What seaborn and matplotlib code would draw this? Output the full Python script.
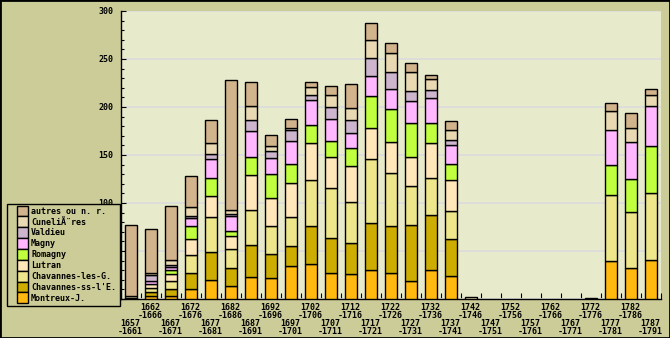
import numpy as np
import pandas as pd
import matplotlib
matplotlib.use("Agg")
import matplotlib.pyplot as plt
import matplotlib.transforms as mtransforms
from matplotlib.patches import Patch, Rectangle
from matplotlib.ticker import MultipleLocator, FixedLocator
import seaborn as sns

# ---------------- data ----------------
period_start = ["1657", "1662", "1667", "1672", "1677", "1682", "1687", "1692", "1697",
                "1702", "1707", "1712", "1717", "1722", "1727", "1732", "1737", "1742",
                "1747", "1752", "1757", "1762", "1767", "1772", "1777", "1782", "1787"]
period_end = ["1661", "1666", "1671", "1676", "1681", "1686", "1691", "1696", "1701",
              "1706", "1711", "1716", "1721", "1726", "1731", "1736", "1741", "1746",
              "1751", "1756", "1761", "1766", "1771", "1776", "1781", "1786", "1791"]

montreux = [0, 2.8, 3.5, 10.8, 20.2, 13.9, 23.3, 22.3, 34.8, 36.9, 27.5, 26.5, 30.6, 27.5,
            19.2, 30.6, 24.4, 0, 0, 0, 0, 0, 0, 0, 40.0, 32.7, 41.0]
chav_ss = [0, 4.9, 6.5, 16.7, 29.2, 18.1, 33.4, 25.0, 20.8, 39.6, 36.5, 32.3, 49.0, 49.0,
           58.3, 57.3, 38.5, 0, 0, 0, 0, 0, 0, 0, 0, 0, 0]
chav_les = [1.2, 3.4, 8.3, 18.7, 36.4, 19.8, 36.4, 29.2, 30.2, 47.9, 52.0, 42.7, 66.6, 55.2,
            40.6, 38.6, 29.2, 0, 0, 0, 0, 0, 0, 0.8, 68.8, 58.3, 69.8]
lutran = [2.0, 5.0, 7.6, 16.7, 21.9, 13.5, 36.5, 29.2, 35.4, 38.5, 32.3, 37.5, 32.3, 32.3,
          30.2, 36.4, 32.3, 2.0, 0, 0, 0, 0, 0, 0, 0, 0, 0]
romagny = [0, 0, 4.5, 12.8, 18.8, 5.2, 18.7, 25.0, 19.8, 18.8, 16.7, 18.7, 33.4, 34.3,
           35.5, 20.9, 16.6, 0, 0, 0, 0, 0, 0, 0, 31.2, 34.4, 49.0]
magny = [0, 2.5, 2.5, 8.4, 19.7, 16.4, 27.1, 16.2, 24.0, 26.0, 22.9, 15.6, 20.8, 20.9,
         22.9, 26.0, 19.8, 0, 0, 0, 0, 0, 0, 0, 36.5, 38.6, 41.6]
valdieu = [0, 6.8, 2.0, 2.0, 5.3, 1.5, 11.5, 7.7, 11.5, 5.2, 12.5, 13.6, 18.8, 17.7,
           10.4, 8.3, 5.2, 0, 0, 0, 0, 0, 0, 0, 0, 0, 0]
cunelieres = [0, 1.7, 5.5, 10.1, 11.4, 4.7, 14.5, 5.2, 1.3, 8.3, 12.5, 12.5, 18.7, 19.8,
              19.8, 11.5, 10.5, 0, 0, 0, 0, 0, 0, 0, 19.7, 14.5, 11.5]
autres = [74.3, 46.2, 56.9, 32.3, 24.0, 135.4, 25.0, 11.5, 10.1, 5.2, 9.4, 25.0, 17.7, 10.4,
          9.4, 4.2, 9.3, 0, 0, 0, 0, 0, 0, 0, 8.4, 15.7, 6.3]

series_names = ["Montreux-J.", "Chavannes-ss-l'E.", "Chavannes-les-G.", "Lutran", "Romagny",
                "Magny", "Valdieu", "CuneliÃ¨res", "autres ou n. r."]
series_values = [montreux, chav_ss, chav_les, lutran, romagny, magny, valdieu, cunelieres, autres]
series_colors = ["#FFB90F", "#CDAD00", "#EEE68A", "#FFE7BA", "#C0FF3E",
                 "#FFB8FF", "#CDB5CD", "#E8D9B3", "#D2B48C"]

y_ticks = [0, 50, 100, 150, 200, 250, 300]

FIG_BG = "#CCCC99"
PLOT_BG = "#E8EBCB"
W, H = 670, 338

plt.rcParams["font.family"] = ["DejaVu Sans Mono"]
plt.rcParams["font.weight"] = "bold"

cats = [f"{s}-{e}" for s, e in zip(period_start, period_end)]
n = len(cats)

fig = plt.figure(figsize=(W / 100, H / 100), dpi=100, facecolor=FIG_BG)
ax = fig.add_axes([121 / W, 39 / H, 540 / W, 288 / H])
ax.set_facecolor(PLOT_BG)

cum = np.zeros(n)
for name, vals, col in zip(series_names, series_values, series_colors):
    df = pd.DataFrame({"period": cats, "value": vals})
    sns.barplot(data=df, x="period", y="value", order=cats, color=col, saturation=1,
                edgecolor="black", linewidth=1.0, width=0.6, bottom=cum.copy(),
                errorbar=None, ax=ax, zorder=3)
    cum += np.array(vals, dtype=float)

for p in ax.patches:
    if p.get_height() == 0:
        p.set_visible(False)

ax.set_xlabel("")
ax.set_ylabel("")
ax.set_ylim(0, 300)
ax.set_xlim(-0.5, n - 0.5)

ax.set_axisbelow(True)
ax.yaxis.set_major_locator(FixedLocator(y_ticks))
ax.yaxis.set_minor_locator(MultipleLocator(10))
ax.set_yticklabels([str(t) for t in y_ticks])
ax.yaxis.grid(True, which="major", color="#DCDCDC", linewidth=1.3, zorder=0)
ax.xaxis.grid(False)
ax.tick_params(axis="y", which="major", direction="in", length=3.8, width=0.8,
               pad=5.5, labelsize=6, colors="black")
ax.tick_params(axis="y", which="minor", direction="in", length=2.3, width=0.8)

ax.set_xticks(range(n))
ax.set_xticklabels([])
ax.tick_params(axis="x", which="major", length=0)
ax.xaxis.set_minor_locator(FixedLocator(np.arange(-0.5, n, 1.0)))
ax.tick_params(axis="x", which="minor", direction="in", length=4, width=0.8)

for s in ["top", "right"]:
    ax.spines[s].set_visible(False)
for s in ["left", "bottom"]:
    ax.spines[s].set_linewidth(1.0)
    ax.spines[s].set_color("black")

trans = mtransforms.blended_transform_factory(ax.transData, fig.transFigure)
for i, (s, e) in enumerate(zip(period_start, period_end)):
    if i % 2 == 1:
        b1, b2 = 310, 318
    else:
        b1, b2 = 326, 334
    ax.text(i - 0.05, (H - b1) / H, s, ha="center", va="baseline", fontsize=6,
            transform=trans, clip_on=False)
    ax.text(i - 0.05, (H - b2) / H, "-" + e, ha="center", va="baseline", fontsize=6,
            transform=trans, clip_on=False)

# legend box
fig.add_artist(Rectangle((7.3 / W, (H - 306) / H), (119.7 - 7.3) / W, (306 - 204.3) / H,
                         transform=fig.transFigure, facecolor=FIG_BG, edgecolor="black",
                         linewidth=1.0, zorder=4))
handles = [Patch(facecolor=c, edgecolor="black", linewidth=1.0) for c in series_colors][::-1]
labels = series_names[::-1]
leg = fig.legend(handles, labels, loc="upper left",
                 bbox_to_anchor=(17.3 / W, (H - 205.5) / H), bbox_transform=fig.transFigure,
                 frameon=False, borderpad=0, borderaxespad=0, labelspacing=0,
                 handlelength=1.3, handleheight=1.63, handletextpad=0.35, fontsize=6)
leg.set_zorder(5)

fig.add_artist(Rectangle((0, 0), 1, 1, transform=fig.transFigure, fill=False,
                         edgecolor="black", linewidth=2, zorder=10))

fig.savefig("out.png", dpi=100, facecolor=FIG_BG)
